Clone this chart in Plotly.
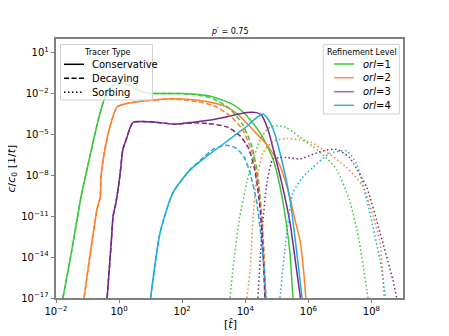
import numpy as np
import plotly.graph_objects as go

# ---- data (log10 values) ----
# Conservative
g_c_x = [-1.78, -1.5, -1.2, -1.02, -0.8, -0.6, -0.45, -0.3, -0.1, 0.15, 0.4, 0.7, 1.0, 1.5, 2.0, 2.5, 2.9, 3.3, 3.6, 3.9, 4.15, 4.5, 4.88, 5.1, 5.3, 5.42, 5.51]
g_c_y = [-17, -13.5, -9.5, -7.6, -5.3, -3.4, -2.3, -1.6, -1.3, -1.25, -1.5, -1.85, -1.98, -2.0, -2.0, -2.08, -2.2, -2.5, -2.8, -3.3, -3.9, -5.0, -6.8, -8.8, -11.5, -13.8, -17]
o_c_x = [-1.11, -0.9, -0.7, -0.6, -0.57, -0.45, -0.3, -0.07, 0.2, 0.6, 1.0, 1.5, 2.0, 2.5, 3.0, 3.42, 3.8, 4.24, 4.7, 5.1, 5.4, 5.6, 5.73, 5.85, 5.92]
o_c_y = [-17, -13.5, -10.5, -9.6, -8.0, -6.1, -4.5, -3.0, -2.75, -2.6, -2.5, -2.4, -2.4, -2.5, -2.7, -3.0, -3.6, -4.65, -5.8, -7.3, -9.5, -11.5, -12.7, -15, -17]
p_c_x = [-0.38, -0.25, -0.19, -0.1, 0.0, 0.05, 0.12, 0.25, 0.35, 0.45, 0.73, 1.14, 1.77, 2.35, 3.0, 3.42, 4.05, 4.35, 4.5, 4.7, 4.9, 5.15, 5.42, 5.6, 5.75]
p_c_y = [-17, -13, -11, -10, -8.5, -7.5, -6.1, -5.2, -4.5, -4.1, -4.05, -4.1, -4.25, -4.1, -3.9, -3.7, -3.4, -3.4, -3.55, -4.5, -6.2, -8.5, -11.5, -14.5, -17]
c_c_x = [1.0, 1.07, 1.3, 1.7, 2.25, 2.78, 3.42, 4.05, 4.4, 4.56, 4.7, 4.88, 5.15, 5.42, 5.65, 5.8]
c_c_y = [-17, -15.7, -12.2, -9.3, -7.6, -6.6, -5.5, -4.4, -3.7, -3.5, -3.8, -4.6, -6.8, -9.8, -14, -17]

# Decaying
g_d_x = [-1.78, -1.5, -1.2, -1.02, -0.8, -0.6, -0.45, -0.3, -0.1, 0.15, 0.4, 0.7, 1.0, 1.5, 2.0, 2.5, 3.0, 3.5, 3.9, 4.2, 4.4, 4.5, 4.58, 4.63]
g_d_y = [-17, -13.5, -9.5, -7.6, -5.3, -3.4, -2.3, -1.6, -1.3, -1.25, -1.5, -1.85, -1.98, -2.0, -2.0, -2.1, -2.4, -3.1, -4.2, -5.8, -8.0, -10.5, -13.5, -17]
o_d_x = [-1.11, -0.9, -0.7, -0.6, -0.57, -0.45, -0.3, -0.07, 0.2, 0.6, 1.0, 1.5, 2.0, 2.5, 3.0, 3.5, 3.9, 4.2, 4.4, 4.52, 4.6, 4.65]
o_d_y = [-17, -13.5, -10.5, -9.6, -8.0, -6.1, -4.5, -3.0, -2.75, -2.6, -2.5, -2.4, -2.45, -2.6, -2.9, -3.6, -4.6, -6.2, -8.5, -11, -14, -17]
p_d_x = [-0.38, -0.25, -0.19, -0.1, 0.0, 0.05, 0.12, 0.25, 0.35, 0.45, 0.73, 1.14, 1.77, 2.35, 2.8, 3.42, 3.83, 4.1, 4.3, 4.45, 4.55, 4.62]
p_d_y = [-17, -13, -11, -10, -8.5, -7.5, -6.1, -5.2, -4.5, -4.1, -4.05, -4.1, -4.25, -4.15, -4.2, -4.45, -5.1, -6.0, -7.6, -10, -13, -17]
c_d_x = [1.0, 1.07, 1.3, 1.7, 2.25, 2.57, 2.98, 3.2, 3.42, 3.7, 3.95, 4.15, 4.35, 4.5, 4.6, 4.66]
c_d_y = [-17, -15.7, -12.2, -9.3, -7.6, -6.9, -6.1, -5.9, -5.8, -6.0, -6.6, -7.8, -9.8, -12.5, -15, -17]

# Sorbing
g_s_x = [3.52, 3.65, 3.83, 4.05, 4.25, 4.47, 4.7, 4.95, 5.3, 5.73, 6.15, 6.6, 6.9, 7.3, 7.6, 7.89]
g_s_y = [-17, -14, -11, -8.5, -6.8, -5.4, -4.6, -4.35, -4.5, -5.2, -5.9, -6.8, -7.6, -9.8, -12.7, -17]
o_s_x = [4.05, 4.15, 4.25, 4.35, 4.57, 4.88, 5.32, 5.73, 6.1, 6.46, 7.2, 7.73, 8.05, 8.27, 8.4]
o_s_y = [-17, -15, -11, -8.5, -6.3, -5.5, -5.3, -5.4, -5.6, -6.1, -7.4, -8.8, -11, -12.9, -17]
p_s_x = [4.4, 4.53, 4.69, 4.88, 5.1, 5.32, 5.73, 6.1, 6.46, 6.9, 7.3, 7.85, 8.27, 8.68, 8.8]
p_s_y = [-17, -12.2, -8.5, -6.8, -6.7, -6.7, -6.8, -6.5, -6.2, -6.1, -6.7, -8.9, -12.2, -15.7, -17]
c_s_x = [5.1, 5.3, 5.51, 5.8, 6.15, 6.68, 7.2, 7.52, 7.85, 8.27, 8.45]
c_s_y = [-17, -12.5, -9.3, -8.2, -7.4, -6.4, -6.2, -7.1, -9.8, -14.2, -17]

levels = ["<i>orl</i>=1", "<i>orl</i>=2", "<i>orl</i>=3", "<i>orl</i>=4"]
tracer_types = ["Conservative", "Decaying", "Sorbing"]
x_tickvals = [-2, 0, 2, 4, 6, 8]
y_tickvals = [-17, -14, -11, -8, -5, -2, 1]

colors = ["#3cc83c", "#ff7f2a", "#74288c", "#1eaadc"]
legend_colors = ["#33cc33", "#ff8c55", "#9e6aae", "#3fb3e0"]
dashes = ["solid", "5px,2.5px", "1.5px,2.5px"]

series = [
    [(g_c_x, g_c_y), (g_d_x, g_d_y), (g_s_x, g_s_y)],
    [(o_c_x, o_c_y), (o_d_x, o_d_y), (o_s_x, o_s_y)],
    [(p_c_x, p_c_y), (p_d_x, p_d_y), (p_s_x, p_s_y)],
    [(c_c_x, c_c_y), (c_d_x, c_d_y), (c_s_x, c_s_y)],
]

# page has an 8px body margin; figure sized so plot area lands where the reference has it
OFF = 8
W, H = 449 - OFF, 336 - OFF
PL, PR, PT, PB = 56, 403, 39, 298  # plot area in screen pixels


def px(sx):
    return (sx - PL) / (PR - PL)


def py(sy):
    return (PB - sy) / (PB - PT)


fig = go.Figure()
for ti, dash in enumerate(dashes):
    for li, col in enumerate(colors):
        xs, ys = series[li][ti]
        fig.add_trace(go.Scatter(
            x=np.power(10.0, xs), y=np.power(10.0, ys), mode="lines",
            line=dict(color=col, width=1.5, dash=dash, shape="spline", smoothing=0.6),
            showlegend=False, hoverinfo="skip"))

shapes = []
annotations = []


def add_legend(x0, x1, y0, y1, title, title_cx, names, cols, dsh, line_x0, line_x1, text_x, ys):
    shapes.append(dict(type="rect", xref="paper", yref="paper", x0=px(x0), x1=px(x1),
                       y0=py(y1), y1=py(y0), fillcolor="rgba(255,255,255,0.8)",
                       line=dict(color="#d0d0d0", width=1), layer="above"))
    annotations.append(dict(text=title, xref="paper", yref="paper", x=px(title_cx), y=py(ys[0] - 12),
                            showarrow=False, xanchor="center", yanchor="middle",
                            font=dict(size=8, color="black")))
    for name, c, d, yy in zip(names, cols, dsh, ys):
        shapes.append(dict(type="line", xref="paper", yref="paper", x0=px(line_x0), x1=px(line_x1),
                           y0=py(yy), y1=py(yy), line=dict(color=c, width=1.5, dash=d), layer="above"))
        annotations.append(dict(text=name, xref="paper", yref="paper", x=px(text_x), y=py(yy),
                                showarrow=False, xanchor="left", yanchor="middle",
                                font=dict(size=10, color="black")))


add_legend(60.5, 152.5, 44.5, 100, "Tracer Type", 107, tracer_types, ["black"] * 3,
           ["solid", "5px,2.5px", "1.5px,2.5px"], 64, 84, 89.5, [64.3, 78.3, 92.3])
add_legend(323.3, 399.3, 44.3, 114, "Refinement Level", 361.5, levels, legend_colors,
           ["solid"] * 4, 334, 354, 360.5, [64, 77.7, 91.7, 105.3])

annotations += [
    dict(text="<i>p</i>′ = 0.75", x=0.5, xref="paper", y=py(31), yref="paper",
         showarrow=False, font=dict(size=8), yanchor="middle"),
    dict(text="[<i>t̂</i>]", x=px(230), xref="paper", y=py(324), yref="paper",
         showarrow=False, font=dict(size=11), yanchor="middle"),
    dict(text="<i>c</i>/<i>c</i><sub>0</sub> [1/<i>t̂</i>]", x=px(11), xref="paper",
         y=0.5, yref="paper", textangle=-90, showarrow=False,
         font=dict(size=11), xanchor="center", yanchor="middle"),
]

font = "DejaVu Sans"
axcol = "#808080"
fig.update_layout(
    width=W, height=H,
    margin=dict(l=PL - OFF, r=W - (PR - OFF), t=PT - OFF, b=H - (PB - OFF), autoexpand=False),
    paper_bgcolor="white", plot_bgcolor="white",
    font=dict(family=font, size=10, color="black"),
    showlegend=False,
    xaxis=dict(type="log", range=[-2, 9], tickvals=[10.0 ** v for v in x_tickvals],
               ticktext=["10<sup>%s</sup>" % (str(v).replace("-", "−")) for v in x_tickvals],
               ticks="outside", ticklen=3.5, tickcolor=axcol, showgrid=False, zeroline=False,
               showline=True, linecolor=axcol, linewidth=1.5, mirror=True),
    yaxis=dict(type="log", range=[-17, 2], tickvals=[10.0 ** v for v in y_tickvals],
               ticktext=["10<sup>%s</sup>" % (str(v).replace("-", "−")) for v in y_tickvals],
               ticks="outside", ticklen=3.5, tickcolor=axcol, showgrid=False, zeroline=False,
               showline=True, linecolor=axcol, linewidth=1.5, mirror=True),
    shapes=shapes,
    annotations=annotations,
)
fig.write_html("out.html")
